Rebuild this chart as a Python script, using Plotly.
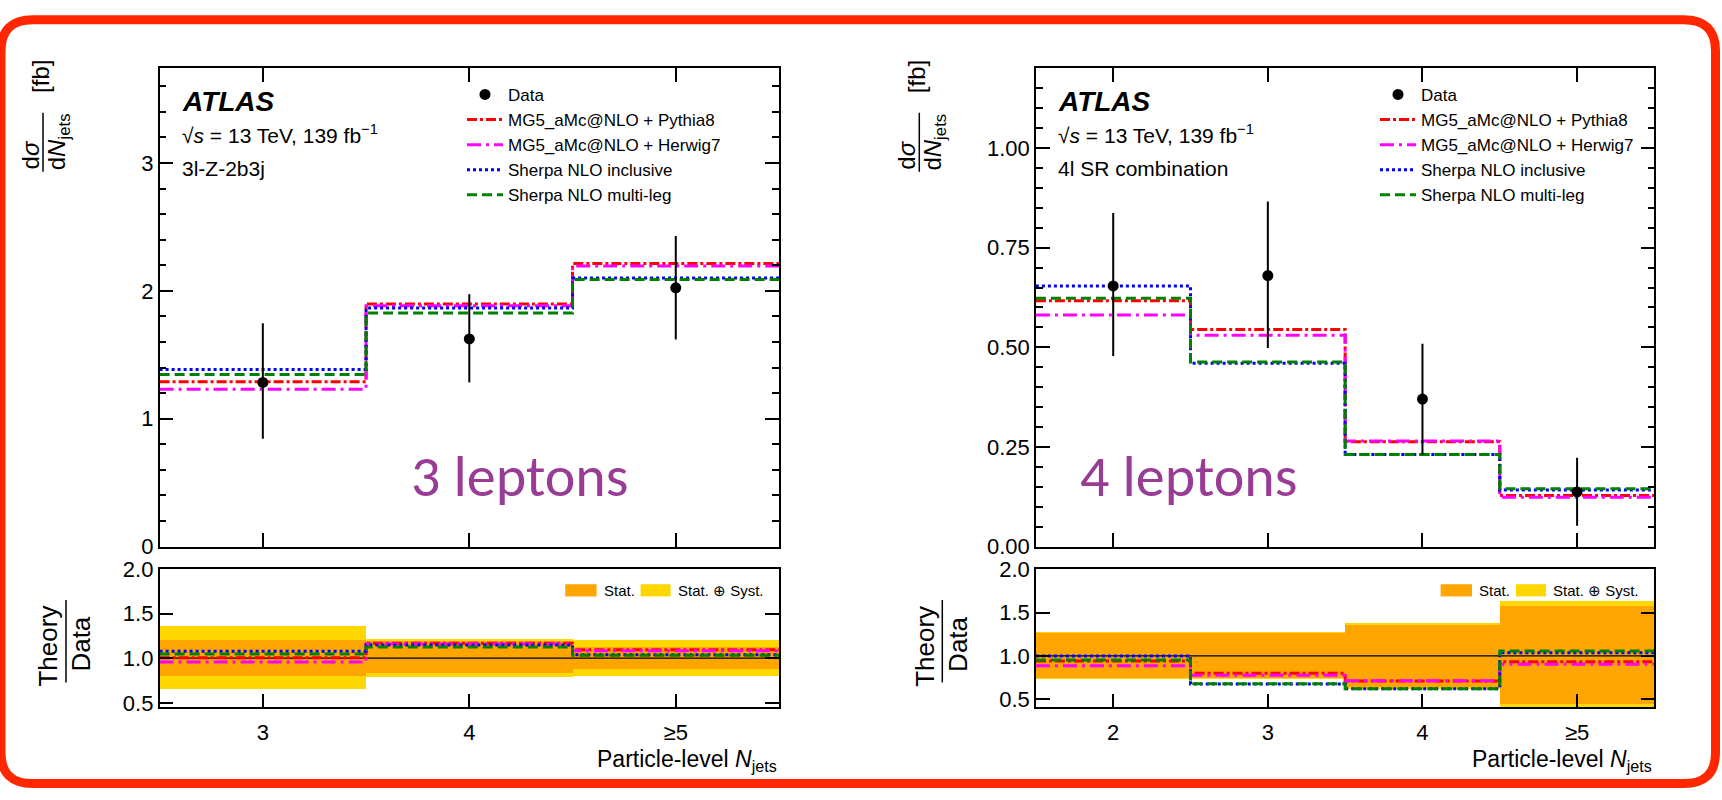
import plotly.graph_objects as go

# ---------------- 3-lepton channel (3l-Z-2b3j) ----------------
nj3_labels = ["3", "4", "≥5"]
nj3_centers = [3, 4, 5]
nj3_edges = [2.5, 3.5, 4.5, 5.5]
data3 = [1.284, 1.624, 2.024]
data3_err_up = [0.462, 0.350, 0.404]
data3_err_dn = [0.441, 0.340, 0.404]
stat3_up = [0.257, 0.305, 0.255]
stat3_dn = [0.257, 0.270, 0.255]
mg5py8_3 = [1.289, 1.897, 2.214]
mg5hw7_3 = [1.230, 1.884, 2.195]
sherpa_incl_3 = [1.384, 1.865, 2.100]
sherpa_ml_3 = [1.346, 1.827, 2.089]

# ---------------- 4-lepton channel (4l SR combination) ----------------
nj4_labels = ["2", "3", "4", "≥5"]
nj4_centers = [2, 3, 4, 5]
nj4_edges = [1.5, 2.5, 3.5, 4.5, 5.5]
data4 = [0.654, 0.680, 0.370, 0.137]
data4_err_up = [0.183, 0.186, 0.139, 0.086]
data4_err_dn = [0.176, 0.182, 0.139, 0.085]
stat4_up = [0.172, 0.180, 0.132, 0.079]
stat4_dn = [0.165, 0.172, 0.133, 0.076]
mg5py8_4 = [0.617, 0.545, 0.263, 0.128]
mg5hw7_4 = [0.581, 0.530, 0.265, 0.124]
sherpa_incl_4 = [0.654, 0.460, 0.231, 0.142]
sherpa_ml_4 = [0.623, 0.463, 0.231, 0.145]

model_names = ["MG5_aMc@NLO + Pythia8", "MG5_aMc@NLO + Herwig7",
               "Sherpa NLO inclusive", "Sherpa NLO multi-leg"]
model_colors = ["#FF0000", "#FF00FF", "#0000FF", "#008000"]
model_dash = ["10px,3px,3px,3px", "14px,5px,3px,5px", "3px,3px", "10px,5px"]

W, H = 1722, 800
FONT = "Liberation Sans, Arial, Helvetica, sans-serif"
STAT_COLOR = "#FFA500"
TOT_COLOR = "#FFD700"


def px(x):
    return x / W


def py(y):
    return 1 - y / H


def step(vals):
    return list(vals) + [vals[-1]]


fig = go.Figure()


def add_channel(xa_top, ya_top, xa_rat, ya_rat, legend, centers, edges,
                data, eup, edn, sup, sdn, models):
    # theory predictions (upper panel)
    for name, col, dash, vals in zip(model_names, model_colors, model_dash, models):
        fig.add_trace(go.Scatter(
            x=edges, y=step(vals), mode="lines", line_shape="hv",
            line=dict(color=col, width=3, dash=dash), name=name,
            xaxis=xa_top, yaxis=ya_top, legend=legend, legendrank=2))
    # data with total uncertainty
    fig.add_trace(go.Scatter(
        x=centers, y=data, mode="markers", name="Data",
        marker=dict(color="black", size=11, symbol="circle"),
        error_y=dict(type="data", symmetric=False, array=eup, arrayminus=edn,
                     width=0, thickness=2, color="black"),
        xaxis=xa_top, yaxis=ya_top, legend=legend, legendrank=1))

    # ratio panel: uncertainty bands relative to data
    tot_lo = [1 - e / d for e, d in zip(edn, data)]
    tot_h = [(u + e) / d for u, e, d in zip(eup, edn, data)]
    st_lo = [1 - e / d for e, d in zip(sdn, data)]
    st_h = [(u + e) / d for u, e, d in zip(sup, sdn, data)]
    fig.add_trace(go.Bar(x=centers, y=tot_h, base=tot_lo, width=1,
                         marker=dict(color=TOT_COLOR, line=dict(width=0)),
                         showlegend=False, xaxis=xa_rat, yaxis=ya_rat))
    fig.add_trace(go.Bar(x=centers, y=st_h, base=st_lo, width=1,
                         marker=dict(color=STAT_COLOR, line=dict(width=0)),
                         showlegend=False, xaxis=xa_rat, yaxis=ya_rat))
    fig.add_trace(go.Scatter(x=[edges[0], edges[-1]], y=[1, 1], mode="lines",
                             line=dict(color="black", width=1.2),
                             showlegend=False, xaxis=xa_rat, yaxis=ya_rat))
    for col, dash, vals in zip(model_colors, model_dash, models):
        ratio = [m / d for m, d in zip(vals, data)]
        fig.add_trace(go.Scatter(
            x=edges, y=step(ratio), mode="lines", line_shape="hv",
            line=dict(color=col, width=3, dash=dash),
            showlegend=False, xaxis=xa_rat, yaxis=ya_rat))


add_channel("x", "y", "x2", "y2", "legend", nj3_centers, nj3_edges,
            data3, data3_err_up, data3_err_dn, stat3_up, stat3_dn,
            [mg5py8_3, mg5hw7_3, sherpa_incl_3, sherpa_ml_3])
add_channel("x3", "y3", "x4", "y4", "legend2", nj4_centers, nj4_edges,
            data4, data4_err_up, data4_err_dn, stat4_up, stat4_dn,
            [mg5py8_4, mg5hw7_4, sherpa_incl_4, sherpa_ml_4])

# panel geometry (pixels)
L_X0, L_X1 = 159.6, 779.0
R_X0, R_X1 = 1035.9, 1654.4
TOP_Y0, TOP_Y1 = 58.2, 551.8
RAT_Y0, RAT_Y1 = 575.0, 717.7

tickfont = dict(family=FONT, size=22, color="black")
axis_base = dict(showline=True, linecolor="black", linewidth=1.5, showgrid=False,
                 zeroline=False, ticks="inside", tickcolor="black", tickwidth=1.5,
                 ticklen=14, tickfont=tickfont)


def top_x(domain, anchor, edges, centers):
    return dict(axis_base, domain=domain, anchor=anchor, range=[edges[0], edges[-1]],
                tickvals=centers, showticklabels=False, mirror="ticks")


def rat_x(domain, anchor, edges, centers, labels):
    return dict(axis_base, domain=domain, anchor=anchor, range=[edges[0], edges[-1]],
                tickvals=centers, ticktext=labels, mirror=True, ticklabelstandoff=5)


top_dom = [py(TOP_Y1), py(TOP_Y0)]
rat_dom = [py(RAT_Y1), py(RAT_Y0)]
ldom = [px(L_X0), px(L_X1)]
rdom = [px(R_X0), px(R_X1)]

minor_top_l = dict(dtick=0.2, ticks="inside", ticklen=7, tickwidth=1.5,
                   tickcolor="black", showgrid=False)
minor_top_r = dict(dtick=0.05, ticks="inside", ticklen=7, tickwidth=1.5,
                   tickcolor="black", showgrid=False)

legend_style = dict(xanchor="left", yanchor="top", bgcolor="rgba(0,0,0,0)",
                    borderwidth=0, traceorder="normal", itemwidth=36,
                    font=dict(family=FONT, size=17, color="black"))

fig.update_layout(
    width=W, height=H,
    margin=dict(l=0, r=0, t=0, b=0),
    paper_bgcolor="white", plot_bgcolor="white",
    barmode="overlay", bargap=0,
    font=dict(family=FONT, color="black"),
    xaxis=top_x(ldom, "y", nj3_edges, nj3_centers),
    yaxis=dict(axis_base, domain=top_dom, anchor="x", range=[0, 3.74],
               tick0=0, dtick=1, mirror="ticks", minor=minor_top_l),
    xaxis2=rat_x(ldom, "y2", nj3_edges, nj3_centers, nj3_labels),
    yaxis2=dict(axis_base, domain=rat_dom, anchor="x2", range=[0.45, 2.0],
                tickvals=[0.5, 1.0, 1.5, 2.0], tickformat=".1f", mirror="ticks"),
    xaxis3=top_x(rdom, "y3", nj4_edges, nj4_centers),
    yaxis3=dict(axis_base, domain=top_dom, anchor="x3", range=[0, 1.2],
                tick0=0, dtick=0.25, tickformat=".2f", mirror="ticks",
                minor=minor_top_r),
    xaxis4=rat_x(rdom, "y4", nj4_edges, nj4_centers, nj4_labels),
    yaxis4=dict(axis_base, domain=rat_dom, anchor="x4", range=[0.41, 2.0],
                tickvals=[0.5, 1.0, 1.5, 2.0], tickformat=".1f", mirror="ticks"),
    legend=dict(legend_style, x=px(462), y=py(67)),
    legend2=dict(legend_style, x=px(1375), y=py(67)),
)

annotations = []
shapes = []


def text(x, y, s, size, anchor="left", angle=0, color="black", family=FONT,
         yanchor="middle"):
    annotations.append(dict(x=px(x), y=py(y), xref="paper", yref="paper",
                            text=s, showarrow=False, xanchor=anchor,
                            yanchor=yanchor, textangle=angle,
                            font=dict(family=family, size=size, color=color)))


def vline_px(x, y0, y1, w=1.5):
    shapes.append(dict(type="line", xref="paper", yref="paper",
                       x0=px(x), x1=px(x), y0=py(y0), y1=py(y1),
                       line=dict(color="black", width=w)))


def box_px(x0, x1, y0, y1, col):
    shapes.append(dict(type="rect", xref="paper", yref="paper",
                       x0=px(x0), x1=px(x1), y0=py(y0), y1=py(y1),
                       fillcolor=col, line=dict(width=0)))


for dx, label in [(0, "3l-Z-2b3j"), (R_X0 - L_X0, "4l SR combination")]:
    # experiment labels
    text(180 + dx, 92, "<b><i>ATLAS</i></b>", 28)
    text(180 + dx, 126, "√<i>s</i> = 13 TeV, 139 fb<sup>−1</sup>", 21)
    text(180 + dx, 162, label, 21)
    # y-axis title of upper panel
    text(41 + dx, 67, "[fb]", 24, anchor="center", angle=-90)
    text(30 + dx, 148, "d<i>σ</i>", 24, anchor="center", angle=-90)
    text(58 + dx, 134.5, "d<i>N</i><sub>jets</sub>", 24, anchor="center", angle=-90)
    vline_px(43 + dx, 104, 165)
    # y-axis title of ratio panel
    text(48 + dx, 655, "Theory", 26, anchor="center", angle=-90)
    text(81 + dx, 653, "Data", 26, anchor="center", angle=-90)
    vline_px(66 + dx, 607, 692)

for x1 in (L_X1, R_X1):
    # x-axis title
    text(x1, 773, "Particle-level <i>N</i><sub>jets</sub>", 23, anchor="right")
    # ratio-panel key
    box_px(x1 - 213.8, x1 - 182.4, 590.7, 603.3, STAT_COLOR)
    text(x1 - 177.4, 597, "Stat.", 15)
    box_px(x1 - 138.4, x1 - 108.4, 590.7, 603.3, TOT_COLOR)
    text(x1 - 103, 597, "Stat. ⊕ Syst.", 15)

# channel captions
text(519.5, 479, "3 leptons", 58, anchor="center", color="#983C96",
     family="Carlito, Lato, Open Sans, sans-serif")
text(1189, 479, "4 leptons", 58, anchor="center", color="#983C96",
     family="Carlito, Lato, Open Sans, sans-serif")

# rounded red frame around the whole slide
bx0, bx1, by0, by1, r = 1.0, 1715.5, 8.0, 796.5, 32.0
frame = (f"M {px(bx0 + r)},{py(by0)} L {px(bx1 - r)},{py(by0)} "
         f"Q {px(bx1)},{py(by0)} {px(bx1)},{py(by0 + r)} "
         f"L {px(bx1)},{py(by1 - r)} Q {px(bx1)},{py(by1)} {px(bx1 - r)},{py(by1)} "
         f"L {px(bx0 + r)},{py(by1)} Q {px(bx0)},{py(by1)} {px(bx0)},{py(by1 - r)} "
         f"L {px(bx0)},{py(by0 + r)} Q {px(bx0)},{py(by0)} {px(bx0 + r)},{py(by0)} Z")
shapes.append(dict(type="path", xref="paper", yref="paper", path=frame,
                   line=dict(color="#FF2600", width=9), fillcolor="rgba(0,0,0,0)"))

fig.update_layout(annotations=annotations, shapes=shapes)
fig.write_html("out.html")
